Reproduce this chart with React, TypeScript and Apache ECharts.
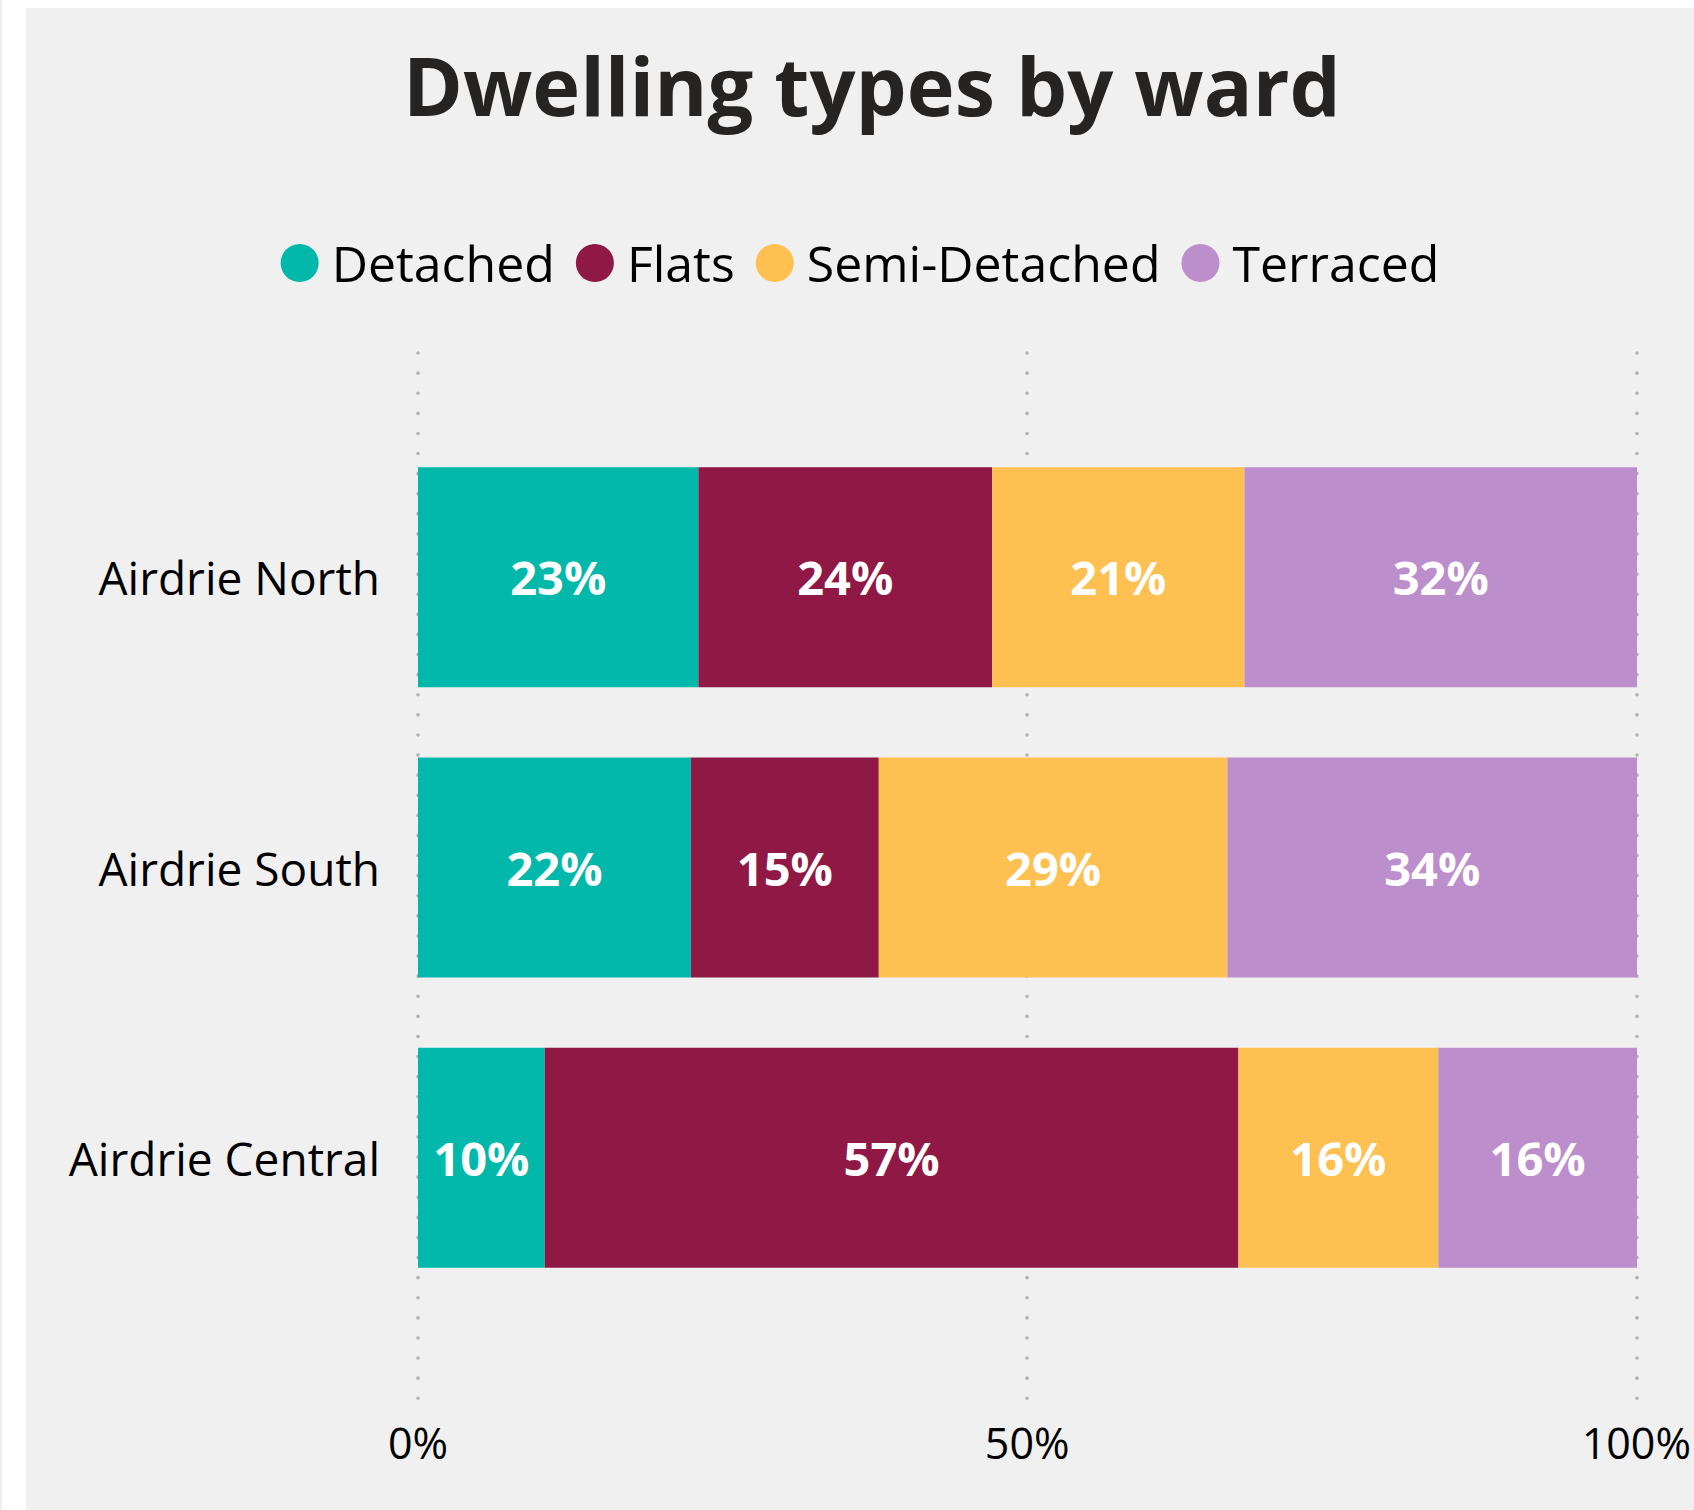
import React, { useEffect, useRef } from "react";
import * as echarts from "echarts";

const wards = ["Airdrie North", "Airdrie South", "Airdrie Central"];
const seriesNames = ["Detached", "Flats", "Semi-Detached", "Terraced"];
const detached = [23.0, 22.4, 10.4];
const flats = [24.1, 15.4, 56.9];
const semiDetached = [20.7, 28.6, 16.4];
const terraced = [32.2, 33.6, 16.3];
const seriesColors = ["#01B8AA", "#8F1845", "#FEC050", "#BC8ECC"];
const axisTicks = [0, 50, 100];

const FONT = "'Open Sans', 'Noto Sans', sans-serif";

export default function App() {
  const ref = useRef<HTMLDivElement>(null);

  useEffect(() => {
    if (!ref.current) return;
    const chart = echarts.init(ref.current, undefined, { renderer: "svg" });
    const values = [detached, flats, semiDetached, terraced];
    const option: any = {
      animation: false,
      backgroundColor: "#F0F0F0",
      textStyle: { fontFamily: FONT },
      title: {
        text: "Dwelling types by ward",
        left: 372,
        top: 31,
        textStyle: {
          fontFamily: FONT,
          fontSize: 81,
          fontWeight: "bold",
          color: "#252423",
        },
      },
      legend: {
        data: seriesNames,
        top: 225,
        left: "center",
        icon: "circle",
        itemWidth: 54,
        itemHeight: 38,
        itemGap: 21,
        textStyle: { fontFamily: FONT, fontSize: 50, color: "#000" },
      },
      grid: [
        { left: 392, right: 57, top: 424, height: 871 },
        { left: 392, right: 57, top: 345, height: 1046 },
      ],
      xAxis: [
        { type: "value", gridIndex: 0, min: 0, max: 100, show: false },
        {
          type: "value",
          gridIndex: 1,
          min: axisTicks[0],
          max: axisTicks[axisTicks.length - 1],
          interval: axisTicks[1] - axisTicks[0],
          axisLine: { show: false },
          axisTick: { show: false },
          axisLabel: {
            formatter: "{value}%",
            fontFamily: FONT,
            fontSize: 43,
            color: "#000",
            margin: 22,
          },
          splitLine: {
            show: true,
            lineStyle: { color: "#B0B0B0", width: 3.5, type: [0.1, 20], cap: "round" },
          },
        },
      ],
      yAxis: [
        {
          type: "category",
          gridIndex: 0,
          data: wards,
          inverse: true,
          axisLine: { show: false },
          axisTick: { show: false },
          axisLabel: { fontFamily: FONT, fontSize: 46, color: "#000", margin: 38, padding: [12, 0, 0, 0] },
        },
        { type: "value", gridIndex: 1, show: false, min: 0, max: 1 },
      ],
      series: seriesNames.map((name, i) => ({
        name,
        type: "bar",
        stack: "total",
        xAxisIndex: 0,
        yAxisIndex: 0,
        barWidth: 220,
        data: values[i],
        itemStyle: { color: seriesColors[i] },
        label: {
          show: true,
          position: "inside",
          formatter: (p: any) => Math.round(p.value) + "%",
          color: "#fff",
          fontFamily: FONT,
          fontWeight: "bold",
          fontSize: 47,
        },
      })),
    };
    chart.setOption(option);
    return () => chart.dispose();
  }, []);

  return (
    <div style={{ position: "absolute", left: 0, top: 0, width: 1694, height: 1510, background: "#fff" }}>
      <div style={{ position: "absolute", left: 0, top: 0, width: 2, height: 1510, background: "#EEEEEE" }} />
      <div ref={ref} style={{ position: "absolute", left: 26, top: 8, width: 1668, height: 1502 }} />
    </div>
  );
}
